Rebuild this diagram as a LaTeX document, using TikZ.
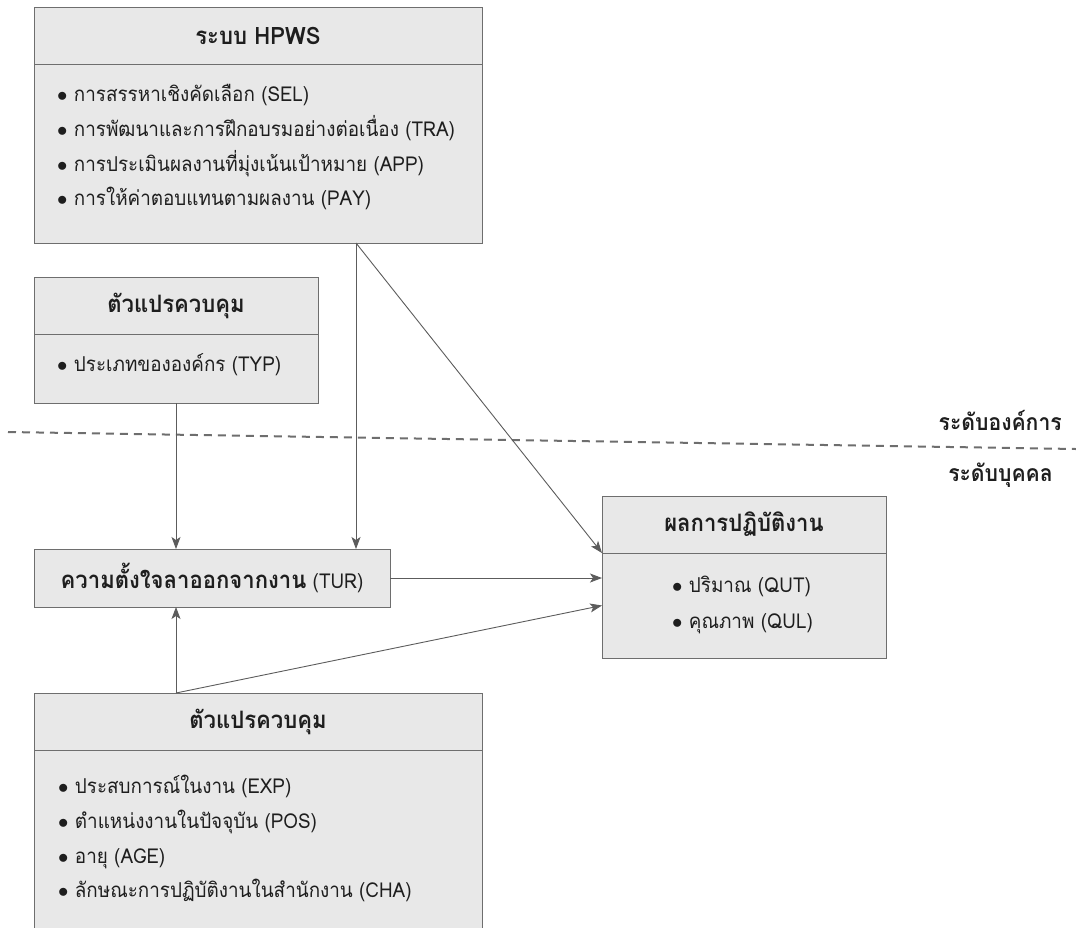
\documentclass[tikz,border=0pt]{standalone}
\usepackage{fontspec}
\newfontfamily\thaifont[Script=Thai, FakeStretch=0.92]{Loma}
\usetikzlibrary{positioning,
                arrows.meta
                }

\definecolor{kastengrau}{HTML}{E8E8E8}
\definecolor{randgrau}{HTML}{6E6E6E}
\definecolor{pfeilgrau}{HTML}{5C5C5C}
\definecolor{textgrau}{HTML}{1E1E1E}

\tikzset{
    kasten/.style={draw=randgrau, fill=kastengrau, line width=1pt,
                   inner sep=0pt, outer sep=0pt, text=textgrau},
    kopf/.style={kasten, anchor=north west, minimum height=57pt,
                 font=\thaifont\bfseries\fontsize{24}{28}\selectfont},
    punkt/.style={font=\thaifont\fontsize{20.5}{24}\selectfont, text=textgrau,
                  anchor=base west, inner sep=0pt},
    ebene/.style={font=\thaifont\bfseries\fontsize{23}{27}\selectfont, text=textgrau,
                  anchor=base east, inner sep=0pt},
    pfeil/.style={draw=pfeilgrau, line width=0.9pt,
                  -{Stealth[length=12pt,width=9pt,inset=3pt]}}
}

\begin{document}
\begin{tikzpicture}[x=1pt, y=-1pt]
    \useasboundingbox (0,0) rectangle (1076,927);
    \clip (0,0) rectangle (1076,927);

    % Kasten HPWS
    \node[kopf, minimum width=448pt] (hpwskopf) at (34,7) {ระบบ HPWS};
    \node[kasten, minimum width=448pt, minimum height=179pt, below=0pt of hpwskopf] (hpwsrumpf) {};
    \node[punkt] (sel) at (57,101) {$\bullet$ การสรรหาเชิงคัดเลือก (SEL)};
    \node[punkt] (tra) at (57,136) {$\bullet$ การพัฒนาและการฝึกอบรมอย่างต่อเนื่อง (TRA)};
    \node[punkt] (app) at (57,171) {$\bullet$ การประเมินผลงานที่มุ่งเน้นเป้าหมาย (APP)};
    \node[punkt] (pay) at (57,205) {$\bullet$ การให้ค่าตอบแทนตามผลงาน (PAY)};

    % Kasten Kontrollvariable Organisation
    \node[kopf, minimum width=284pt] (kvakopf) at (34,277) {ตัวแปรควบคุม};
    \node[kasten, minimum width=284pt, minimum height=69pt, below=0pt of kvakopf] (kvarumpf) {};
    \node[punkt] (typ) at (57,371) {$\bullet$ ประเภทขององค์กร (TYP)};

    % Trennlinie der Ebenen
    \coordinate (tla) at (8,432);
    \coordinate (tlb) at (1076,449);
    \draw[draw=randgrau, line width=2pt, dash pattern=on 8pt off 6pt] (tla) -- (tlb);
    \node[ebene] (orgebene) at (1062,430) {ระดับองค์การ};
    \node[ebene] (indebene) at (1053,481) {ระดับบุคคล};

    % Kasten Arbeitsleistung
    \node[kopf, minimum width=284pt] (leikopf) at (602,496) {ผลการปฏิบัติงาน};
    \node[kasten, minimum width=284pt, minimum height=105pt, below=0pt of leikopf] (leirumpf) {};
    \node[punkt] (qut) at (672,592) {$\bullet$ ปริมาณ (QUT)};
    \node[punkt] (qul) at (672,628) {$\bullet$ คุณภาพ (QUL)};

    % Kasten Kuendigungsabsicht
    \node[kasten, anchor=north west, minimum width=356pt, minimum height=58pt,
          font=\thaifont\fontsize{20.5}{24}\selectfont] (tur) at (34,549)
          {{\bfseries\fontsize{24}{28}\selectfont ความตั้งใจลาออกจากงาน} (TUR)};

    % Kasten Kontrollvariable Individuum
    \node[kopf, minimum width=448pt] (kvikopf) at (34,693) {ตัวแปรควบคุม};
    \node[kasten, minimum width=448pt, minimum height=260pt, below=0pt of kvikopf] (kvirumpf) {};
    \node[punkt] (exp) at (58,793) {$\bullet$ ประสบการณ์ในงาน (EXP)};
    \node[punkt] (pos) at (58,828) {$\bullet$ ตำแหน่งงานในปัจจุบัน (POS)};
    \node[punkt] (age) at (58,863) {$\bullet$ อายุ (AGE)};
    \node[punkt] (cha) at (58,897) {$\bullet$ ลักษณะการปฏิบัติงานในสำนักงาน (CHA)};

    % Fusspunkte der Pfeile
    \coordinate (hpwsfuss) at (356,243);
    \coordinate (kvifuss) at (kvikopf.north -| kvarumpf.south);

    % Zeichne Pfeile
    \draw[pfeil] (kvarumpf.south) -- (kvarumpf.south |- tur.north);
    \draw[pfeil] (hpwsfuss) -- (hpwsfuss |- tur.north);
    \draw[pfeil] (hpwsfuss) -- (leikopf.south west);
    \draw[pfeil] (tur.east) -- (tur.east -| leirumpf.west);
    \draw[pfeil] (kvifuss) -- (kvifuss |- tur.south);
    \draw[pfeil] (kvifuss) -- (leirumpf.west);
\end{tikzpicture}
\end{document}
